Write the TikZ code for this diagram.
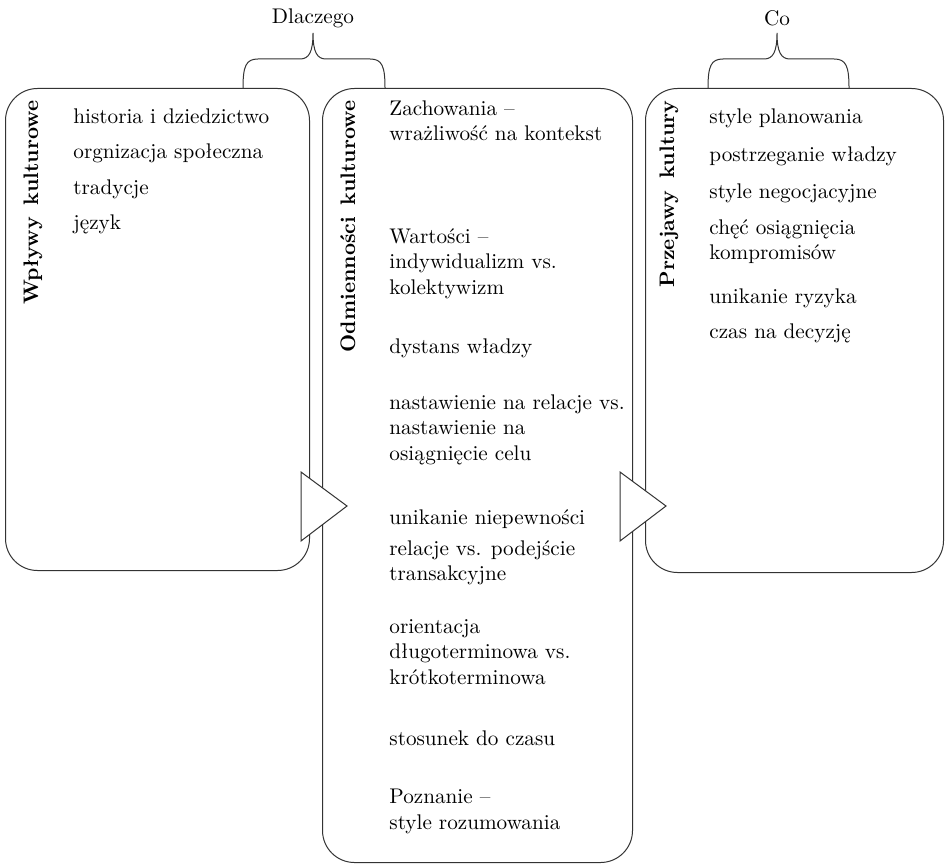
\documentclass[tikz,border=0pt]{standalone}
\usepackage{fontspec}
\usepackage{tikz}

\tikzset{
  boxframe/.style={draw=black!80, line width=0.5pt, rounded corners=16pt,
    anchor=north west, inner sep=0pt},
  item/.style={anchor=north west, inner sep=0pt, align=left,
    font=\fontsize{10.6}{12.75}\selectfont, execute at begin node=\strut},
  boxtitle/.style={rotate=90, anchor=base east, inner sep=0pt,
    font=\fontsize{10.5}{12}\selectfont\bfseries},
  wedge/.style={draw=black!80, fill=white, line width=0.5pt},
  curly/.style={draw=black!80, line width=0.5pt},
  head/.style={inner sep=1pt, font=\fontsize{10.6}{12.75}\selectfont}
}

\begin{document}
\begin{tikzpicture}[x=0.5pt, y=-0.5pt]
\newcommand{\bracepath}[3]{% left x, tip x, right x
  ({#1},88) .. controls ({#1},66) and ({#1+3},59) .. ({#1+15},59)
  -- ({#2-13},59) .. controls ({#2-4},59) and ({#2},52) .. ({#2},33)
  .. controls ({#2},52) and ({#2+4},59) .. ({#2+13},59)
  -- ({#3-15},59) .. controls ({#3-3},59) and ({#3},66) .. ({#3},88)};

\fill[white] (0,0) rectangle (945,866);
\useasboundingbox (0,0) rectangle (945,866);

% boxes
\node[boxframe, minimum width=152pt, minimum height=241pt] (Wb) at (5,88) {};
\node[boxframe, minimum width=155pt, minimum height=387pt] (Ob) at (322,88) {};
\node[boxframe, minimum width=149pt, minimum height=242pt] (Pb) at (645,88) {};

% triangles between the boxes
\draw[wedge] (301,472) -- (347,506) -- (301,541) -- cycle;
\draw[wedge] (620,472) -- (666,506) -- (620,541) -- cycle;

% braces on top
\draw[curly] \bracepath{243}{313}{385};
\draw[curly] \bracepath{708}{777}{849};
\node[head] (why) at (313,18) {Dlaczego};
\node[head] (what) at (777,18) {Co};

% titles
\node[boxtitle] (Wt) at (38,100) {Wpływy\hspace{0.55em}kulturowe};
\node[boxtitle] (Ot) at (355,100) {Odmienności\hspace{0.55em}kulturowe};
\node[boxtitle] (Pt) at (674,100) {Przejawy\hspace{0.55em}kultury};

% left box
\node[item] (W1) at (73,105) {historia i dziedzictwo};
\node[item] (W2) at (73,140) {orgnizacja społeczna};
\node[item] (W3) at (73,176) {tradycje};
\node[item] (W4) at (73,211) {język};

% middle box
\node[item] (O1) at (389,100) {Zachowania –\\wrażliwość na kontekst};
\node[item] (O2) at (389,228) {Wartości –\\indywidualizm vs.\\kolektywizm};
\node[item] (O3) at (389,335) {dystans władzy};
\node[item] (O4) at (389,394) {nastawienie na relacje vs.\\nastawienie na\\osiągnięcie celu};
\node[item] (O5) at (389,506) {unikanie niepewności};
\node[item] (O6) at (389,540) {relacje vs. podejście\\transakcyjne};
\node[item] (O7) at (389,619) {orientacja\\długoterminowa vs.\\krótkoterminowa};
\node[item] (O8) at (389,727) {stosunek do czasu};
\node[item] (O9) at (389,789) {Poznanie –\\style rozumowania};

% right box
\node[item] (P1) at (709,105) {style planowania};
\node[item] (P2) at (709,143) {postrzeganie władzy};
\node[item] (P3) at (709,180) {style negocjacyjne};
\node[item] (P4) at (709,219) {chęć osiągnięcia\\kompromisów};
\node[item] (P5) at (709,285) {unikanie ryzyka};
\node[item] (P6) at (709,320) {czas na decyzję};
\end{tikzpicture}
\end{document}
